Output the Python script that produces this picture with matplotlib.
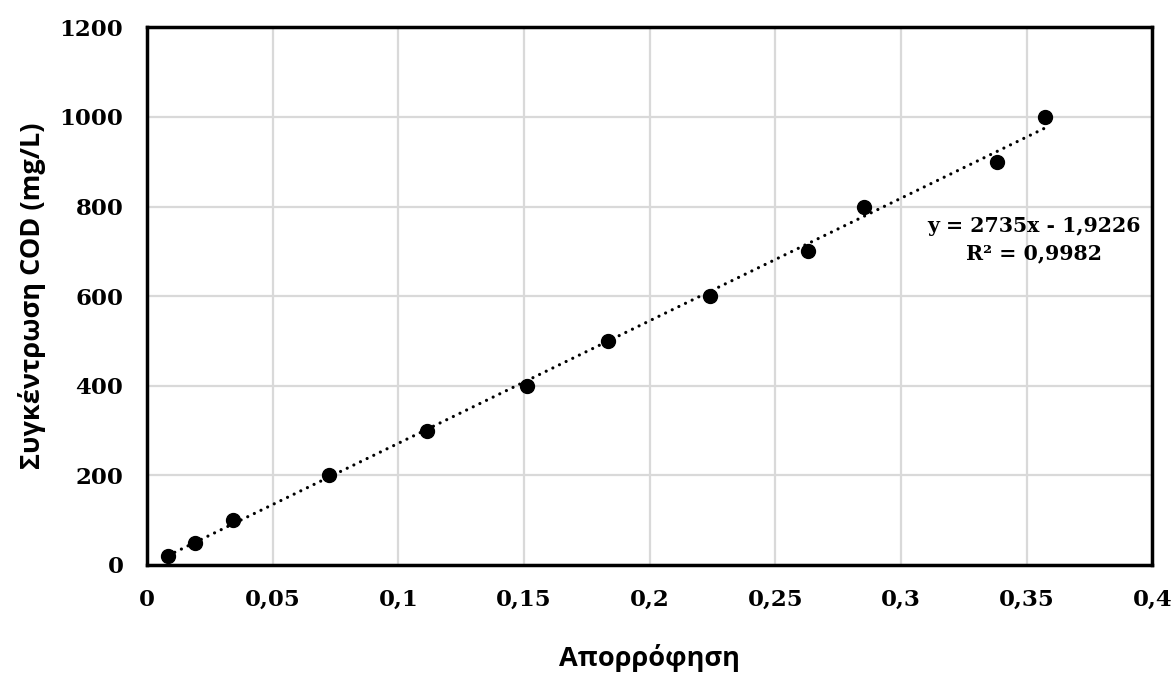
import numpy as np
import matplotlib.pyplot as plt
from matplotlib.ticker import MultipleLocator, FuncFormatter

# Absorbance vs COD concentration (calibration points)
absorbance = [0.0084, 0.019, 0.0342, 0.0724, 0.1115, 0.1513, 0.1835, 0.224, 0.263, 0.2854, 0.3383, 0.3574]
cod = [20, 50, 100, 200, 300, 400, 500, 600, 700, 800, 900, 1000]

# Linear trendline as reported on the chart
slope = 2735
intercept = -1.9226
r2 = 0.9982

fig = plt.figure(figsize=(11.76, 6.82), dpi=100)
ax = fig.add_axes([0.125, 0.1716, 0.855, 0.7884])

x_fit = np.array([min(absorbance), max(absorbance)])
ax.plot(x_fit, slope * x_fit + intercept, color='black', lw=2.3,
        linestyle=(0, (0.01, 2.3)), dash_capstyle='round', zorder=3)
ax.plot(absorbance, cod, 'o', color='black', ms=10, zorder=4)

ax.set_xlim(0, 0.4)
ax.set_ylim(0, 1200)
ax.xaxis.set_major_locator(MultipleLocator(0.05))
ax.yaxis.set_major_locator(MultipleLocator(200))

def comma_fmt(v, pos):
    s = ('%.2f' % v).rstrip('0').rstrip('.')
    return s.replace('.', ',')

ax.xaxis.set_major_formatter(FuncFormatter(comma_fmt))
ax.grid(color='#d9d9d9', lw=1.6)
ax.set_axisbelow(True)
for sp in ax.spines.values():
    sp.set_linewidth(2.5)
    sp.set_color('black')

ax.tick_params(length=0, pad=17)
for lab in ax.get_xticklabels() + ax.get_yticklabels():
    lab.set_fontfamily('DejaVu Serif')
    lab.set_fontweight('bold')
    lab.set_fontsize(16.5)

ax.set_xlabel('Απορρόφηση', fontsize=19.5, fontweight='bold', family='Open Sans', labelpad=24)
ax.set_ylabel('Συγκέντρωση COD (mg/L)', fontsize=19.5, fontweight='bold', family='Open Sans', labelpad=10)

ax.text(0.3528, 757, 'y = %dx - %s' % (slope, str(-intercept).replace('.', ',')),
        ha='center', va='center', family='DejaVu Serif', fontweight='bold', fontsize=14.8)
ax.text(0.3528, 695, 'R² = %s' % str(r2).replace('.', ','),
        ha='center', va='center', family='DejaVu Serif', fontweight='bold', fontsize=14.8)

fig.savefig('out.png', dpi=100)
